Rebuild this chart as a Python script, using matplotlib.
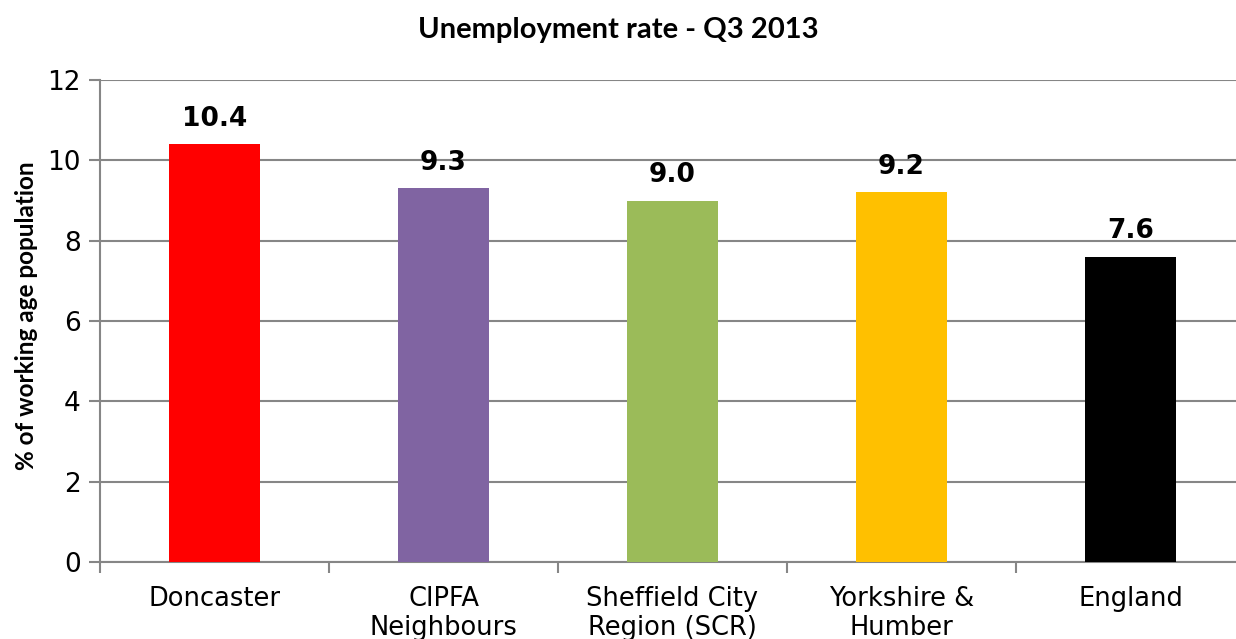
import matplotlib.pyplot as plt
import numpy as np

areas = ["Doncaster", "CIPFA\nNeighbours", "Sheffield City\nRegion (SCR)", "Yorkshire &\nHumber", "England"]
rates = [10.4, 9.3, 9.0, 9.2, 7.6]
colours = ["#FF0000", "#8064A2", "#9BBB59", "#FFC000", "#000000"]
yticks = [0, 2, 4, 6, 8, 10, 12]

grey = "#868686"

fig = plt.figure(figsize=(12.36, 6.39), dpi=100)
ax = fig.add_axes([100/1236, 1 - 562/639, 1145/1236, 482/639])

x = np.arange(len(areas))
ax.bar(x, rates, width=0.40, color=colours, zorder=3)

for xi, v in zip(x, rates):
    ax.annotate(f"{v:.1f}", (xi, v), xytext=(0, 9), textcoords="offset points",
                ha="center", va="bottom", fontsize=19, fontweight="bold",
                family="DejaVu Sans")

ax.set_xlim(-0.5, len(areas) - 0.5)
ax.set_ylim(0, 12)
ax.set_yticks(yticks)
ax.set_yticklabels([str(t) for t in yticks], fontsize=19, family="DejaVu Sans")
ax.yaxis.grid(True, color=grey, linewidth=1.5, zorder=0)

# category labels sit between boundary ticks
ax.set_xticks(np.arange(len(areas) + 1) - 0.5)
ax.set_xticklabels([])
ax.set_xticks(x, minor=True)
ax.set_xticklabels(areas, minor=True, fontsize=18.5, family="DejaVu Sans", linespacing=1.15)
ax.tick_params(axis="x", which="minor", length=0, pad=17)
ax.tick_params(axis="x", which="major", length=8, width=1.5, color=grey)
ax.tick_params(axis="y", length=8, width=1.5, color=grey, pad=6)

for side in ["top", "right"]:
    ax.spines[side].set_visible(False)
for side in ["left", "bottom"]:
    ax.spines[side].set_color(grey)
    ax.spines[side].set_linewidth(1.5)

ax.set_ylabel("% of working age population", fontsize=17.5, fontweight="bold",
              family="Lato")
ax.yaxis.set_label_coords(-0.054, 0.512)
fig.text(0.5, 1 - 30/639, "Unemployment rate - Q3 2013", ha="center", va="center",
         fontsize=21, fontweight="bold", family="Lato")

fig.savefig("out.png", dpi=100)
